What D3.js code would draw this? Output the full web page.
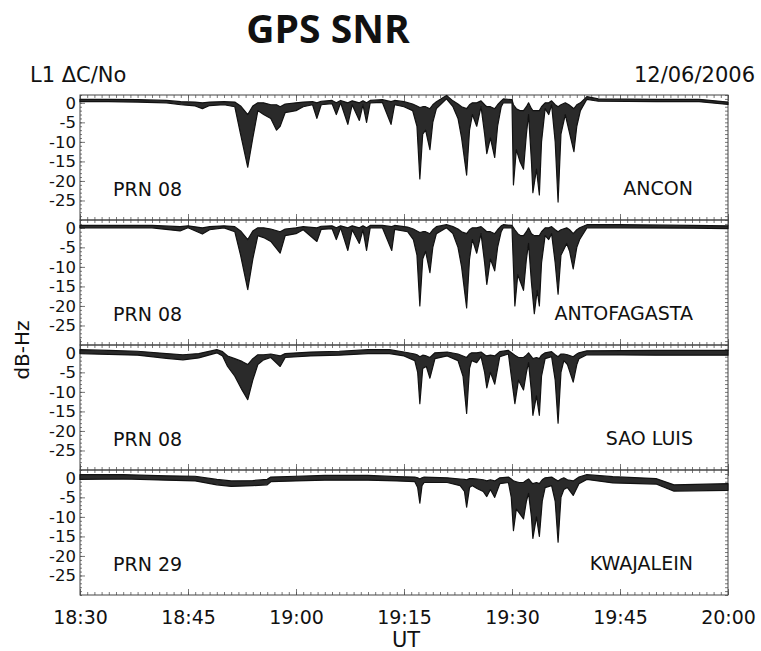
<!DOCTYPE html>
<html>
<head>
<meta charset="utf-8">
<script src="https://cdn.jsdelivr.net/npm/d3@7"></script>
<style>
  body { margin: 0; background: #fff; }
  text { font-family: 'DejaVu Sans', sans-serif; fill: #111; }
</style>
</head>
<body>
<div id="chart"></div>
<script>
const width = 761;
const height = 651;

// station names / satellite per panel
const stations = ['ANCON', 'ANTOFAGASTA', 'SAO LUIS', 'KWAJALEIN'];
const prns = ['PRN 08', 'PRN 08', 'PRN 08', 'PRN 29'];
const dbTicks = [0, -5, -10, -15, -20, -25];

// [minutes after 18:30 UT, upper edge dB, lower edge dB]
const ancon = [
  [0, 0.9, 0.3], [4, 0.9, 0.3], [8, 0.8, 0.2], [12, 0.6, 0], [14, 0.3, -0.5],
  [16, 0.2, -0.8], [17, 0, -1.5], [18, 0.2, -0.7], [20, 0.3, -0.5], [21.5, 0.2, -1],
  [22.3, -0.8, -8], [23.3, -3, -16.5], [24, -0.8, -9], [24.7, 0, -2], [25.5, 0, -3],
  [26.5, -0.5, -4], [27.3, -0.5, -7], [27.8, -1, -6], [28.5, -0.3, -2.5], [30, 0, -2],
  [31, 0.2, -1], [32.3, 0.3, -0.5], [32.9, 0, -4], [33.5, 0.4, -0.5], [35, 0.6, -0.2],
  [35.6, 0, -3], [36.2, 0.6, 0], [37.2, 0, -5.5], [37.8, 0.5, -0.5], [38.8, 0, -4.5],
  [39.3, 0.5, -0.5], [39.8, 0, -5], [40.3, 0.6, 0], [42, 0.8, 0.1], [43.2, 0.3, -5.5],
  [43.7, 0.6, -0.5], [45, 0.3, -1], [46.2, -0.3, -2], [46.8, -0.8, -6], [47.2, -1.2, -19.5],
  [47.6, -1, -8], [48, -1, -7], [48.6, -1.5, -12], [49, -0.5, -5], [49.5, 0.3, -1.5],
  [50.9, 1.9, 1], [51.8, 0.5, -1], [52.5, -0.3, -4], [53, -1, -9], [53.7, -1.5, -18.5],
  [54.1, -0.5, -7], [54.5, 0, -3], [55.1, 0, -6], [55.7, 0.5, -1], [56.2, -0.5, -8],
  [56.5, -1, -13], [57, -1, -9], [57.6, -1.5, -14], [58, -0.5, -6], [58.5, 0.5, -1],
  [58.8, 1, 0], [60, 0.8, 0], [60.2, -0.5, -21], [60.6, -1.5, -12], [61.1, -2, -15],
  [61.6, -2, -17], [62, -1, -8], [62.3, 0, -3], [62.7, -1.5, -15], [62.9, -2, -23],
  [63.4, -2, -17], [63.8, -2, -23.6], [64.1, -1, -10], [64.6, 0, -1.5], [65.1, 0, -3],
  [65.5, 0.5, -0.5], [66, -0.5, -10], [66.4, -1, -25.4], [66.8, -0.5, -8], [67.4, 0, -3],
  [67.9, -0.5, -7], [68.6, -1.5, -12.5], [69, -0.5, -6], [69.5, 0, -2], [70.4, 1.6, 0.9],
  [72, 1, 0.4], [80, 0.9, 0.3], [86, 0.9, 0.3], [90, 0.2, -0.4]
];

const antofagasta = [
  [0, 0.6, 0], [10, 0.6, 0], [13.9, 0.3, -0.8], [15, 0.5, 0], [17, 0, -1.6],
  [18, 0.3, -0.5], [20, 0.5, 0], [21.5, 0.3, -1], [22.3, -0.8, -7], [23.3, -3, -15.8],
  [24, -0.8, -8], [24.7, 0, -2], [25.5, 0, -2.5], [26.5, -0.3, -3.5], [27.8, -1, -6.5],
  [28.5, -0.3, -2], [30, 0, -1.5], [31, 0.3, -0.5], [32.9, 0, -3.5], [33.5, 0.4, -0.4],
  [35, 0.5, -0.2], [35.6, 0, -3], [36.2, 0.5, 0], [37.2, 0, -5.8], [37.8, 0.5, -0.5],
  [38.8, 0, -4], [39.3, 0.5, -0.5], [39.8, 0, -5.8], [40.3, 0.6, 0], [42, 0.6, 0],
  [43.3, 0.3, -5.8], [43.7, 0.6, -0.4], [45.5, 0.2, -1], [46.3, -0.3, -3], [46.8, -0.8, -7],
  [47.2, -1.2, -20], [47.6, -1, -8], [48, -1, -6], [48.6, -1.5, -11.5], [49, -0.5, -5],
  [49.5, 0.3, -1.5], [50.9, 0.8, 0], [51.8, 0.3, -1.5], [52.5, -0.3, -5], [53, -1, -10],
  [53.7, -1.5, -20.5], [54.1, -0.5, -8], [54.5, 0, -3], [55.1, 0, -6.5], [55.7, 0.3, -1.5],
  [56.2, -0.5, -9], [56.5, -1, -14.5], [57, -1, -8], [57.6, -1.5, -11], [58, -0.5, -5],
  [58.5, 0.5, -1], [58.8, 0.8, 0], [60, 0.6, 0], [60.4, -0.5, -20], [60.8, -1.5, -12],
  [61.2, -2, -14], [61.6, -2, -16], [62, -1, -8], [62.3, 0, -4], [62.7, -1.5, -14],
  [63.1, -2, -22], [63.5, -2, -16], [63.8, -2, -20], [64.1, -1, -9], [64.6, 0, -2],
  [65.1, 0, -3], [65.5, 0.3, -1.5], [66, -0.5, -9], [66.4, -1, -17], [66.8, -0.5, -7],
  [67.6, 0, -4], [68, -0.5, -6], [68.5, -1.5, -10.5], [69, -0.5, -5], [69.4, 0, -3],
  [70.4, 0.8, 0], [75, 0.8, 0], [85, 0.6, -0.1], [90, 0.5, -0.2]
];

const saoLuis = [
  [0, 0.8, -0.2], [4, 0.6, -0.4], [8, 0.4, -0.6], [12, -0.2, -1.4], [14.3, -0.5, -1.8],
  [16.5, -0.2, -1.3], [19, 0.8, 0], [19.8, 0.3, -0.8], [20.5, -0.8, -3.5], [21.5, -1.5, -6],
  [22.5, -2.2, -9.5], [23.3, -3, -12], [24, -1.5, -7], [24.7, -0.5, -3], [25.5, -0.5, -1.8],
  [26.5, -0.3, -1.2], [27.8, -0.8, -3.5], [28.5, -0.2, -1.2], [32, 0.2, -0.8], [36, 0.4, -0.6],
  [40, 0.8, -0.2], [43, 0.8, -0.2], [45, 0.2, -0.8], [46.5, -0.3, -2], [46.9, -0.6, -5],
  [47.2, -1, -13], [47.6, -0.6, -4], [48.1, -0.8, -3.5], [48.6, -1.2, -6.5], [49.3, 0, -1.5],
  [51, 0.2, -0.8], [52.5, -0.3, -2], [53.2, -0.8, -6], [53.7, -1.2, -15.5], [54.1, -0.3, -4],
  [54.4, 0, -2], [55.1, 0, -2.5], [55.7, 0.2, -1], [56.2, -0.5, -5], [56.5, -0.8, -9],
  [57, -0.6, -5], [57.6, -0.8, -8], [58.3, 0.3, -1], [59.5, 0.6, -0.3], [60.4, -0.6, -13],
  [60.9, -1.2, -7], [61.6, -1.2, -9.5], [62, -0.6, -5], [62.3, 0, -2.5], [62.7, -1, -10],
  [62.9, -1.5, -16], [63.4, -1.2, -11], [63.8, -1.5, -16], [64.1, -0.6, -6], [64.6, 0, -1.5],
  [65.5, 0.3, -1], [66, -0.5, -7], [66.4, -1, -18], [66.8, -0.3, -5], [67.2, -0.3, -2],
  [67.7, -0.5, -3], [68.5, -1, -7.5], [69, -0.3, -3], [69.3, 0, -1.5], [70.4, 0.5, -0.5],
  [80, 0.6, -0.6], [90, 0.6, -0.6]
];

const kwajalein = [
  [0, 0.8, -0.4], [6, 0.8, -0.3], [12, 0.5, -0.6], [16, 0.4, -0.8], [19, -0.4, -1.8],
  [21, -0.8, -2.2], [24, -0.7, -2], [26, -0.4, -1.8], [26.5, 0.2, -1], [30, 0.4, -0.8],
  [34, 0.6, -0.6], [40, 0.6, -0.6], [44, 0.3, -0.8], [46.5, 0.2, -1], [46.9, 0, -2.5],
  [47.2, -0.3, -6.5], [47.5, 0, -2], [47.8, 0.2, -1.2], [51, 0, -1.2], [52.8, -0.3, -2],
  [53.4, -0.4, -3.5], [53.7, -0.5, -7.5], [54.1, -0.2, -2.5], [54.5, -0.2, -2],
  [55.2, -0.3, -2.8], [56, -0.5, -3.5], [56.5, -0.8, -4.8], [57, -0.5, -3], [57.6, -0.8, -5],
  [58.3, 0, -1.5], [59.5, 0.2, -1.2], [59.9, -0.3, -5], [60.2, -0.8, -13.5], [60.6, -1, -8],
  [61, -1.2, -9], [61.6, -1.2, -10.5], [62, -0.6, -6], [62.3, -0.3, -4], [62.7, -1.2, -10],
  [62.9, -1.5, -15.5], [63.4, -1.2, -10], [63.8, -1.5, -15], [64.2, -0.5, -6], [64.6, 0, -2.5],
  [65.5, 0.2, -2], [66, -0.4, -6], [66.4, -0.8, -16.5], [66.8, -0.3, -5], [67.2, 0, -3],
  [67.7, -0.5, -2.5], [68.5, -0.8, -4.5], [69.3, 0.2, -1.5], [70.4, 0.8, -0.4],
  [74, 0.3, -1.3], [80, -0.2, -1.6], [82.5, -1.8, -3.4], [90, -1.5, -3.2]
];

const series = [ancon, antofagasta, saoLuis, kwajalein];

const margin = { left: 80, right: 33, top: 95 };
const panelH = 125;
const t0 = new Date(2006, 11, 6, 18, 30);
const toDate = (m) => new Date(t0.getTime() + m * 60000);

const x = d3
  .scaleTime()
  .domain([toDate(0), toDate(90)])
  .range([margin.left, width - margin.right]);

const svg = d3
  .select('#chart')
  .append('svg')
  .attr('width', width)
  .attr('height', height)
  .attr('viewBox', [0, 0, width, height]);

// titles
svg
  .append('text')
  .attr('x', 328)
  .attr('y', 43)
  .attr('text-anchor', 'middle')
  .style('font-family', "'Open Sans', sans-serif")
  .style('font-weight', 'bold')
  .style('font-size', '39px')
  .text('GPS SNR');

svg
  .append('text')
  .attr('x', 30)
  .attr('y', 82)
  .style('font-size', '21px')
  .text('L1 \u0394C/No');

svg
  .append('text')
  .attr('x', 755)
  .attr('y', 82)
  .attr('text-anchor', 'end')
  .style('font-size', '21px')
  .text('12/06/2006');

series.forEach((data, i) => {
  const top = margin.top + i * panelH;
  const y = d3.scaleLinear().domain([-30, 2]).range([top + panelH, top]);
  const g = svg.append('g');

  // minor / major ticks, all pointing inward
  g.append('g')
    .attr('transform', `translate(0,${top})`)
    .call(d3.axisTop(x).ticks(d3.timeMinute.every(1)).tickSize(-3).tickFormat(''));
  g.append('g')
    .attr('transform', `translate(0,${top})`)
    .call(d3.axisTop(x).ticks(d3.timeMinute.every(15)).tickSize(-6).tickFormat(''));
  g.append('g')
    .attr('transform', `translate(0,${top + panelH})`)
    .call(d3.axisBottom(x).ticks(d3.timeMinute.every(1)).tickSize(-3).tickFormat(''));
  const bottomAxis = g
    .append('g')
    .attr('transform', `translate(0,${top + panelH})`)
    .call(
      d3
        .axisBottom(x)
        .ticks(d3.timeMinute.every(15))
        .tickSize(-6)
        .tickPadding(16)
        .tickFormat(i === 3 ? d3.timeFormat('%H:%M') : '')
    );
  g.append('g')
    .attr('transform', `translate(${margin.left},0)`)
    .call(d3.axisLeft(y).ticks(32).tickSize(-2).tickFormat(''));
  g.append('g')
    .attr('class', 'yaxis')
    .attr('transform', `translate(${margin.left},0)`)
    .call(
      d3
        .axisLeft(y)
        .tickValues(dbTicks)
        .tickSize(-5)
        .tickPadding(4)
        .tickFormat((d) => (d === 0 ? '0' : '-' + Math.abs(d)))
    );
  g.append('g')
    .attr('transform', `translate(${width - margin.right},0)`)
    .call(d3.axisRight(y).ticks(32).tickSize(-3).tickFormat(''));

  g.selectAll('.domain').remove();
  g.selectAll('.tick line').attr('stroke', '#555').attr('stroke-width', 0.8);
  g.selectAll('.yaxis text').style('font-size', '16.5px').attr('fill', '#111');
  bottomAxis.selectAll('text').style('font-size', '19px').attr('fill', '#111');

  // panel frame
  g.append('rect')
    .attr('x', margin.left)
    .attr('y', top)
    .attr('width', width - margin.right - margin.left)
    .attr('height', panelH)
    .attr('fill', 'none')
    .attr('stroke', '#444')
    .attr('stroke-width', 1);

  // SNR trace: band between upper and lower edges of the fast fluctuations
  const area = d3
    .area()
    .x((d) => x(toDate(d[0])))
    .y0((d) => y(d[2]))
    .y1((d) => y(d[1]));

  g.append('path')
    .datum(data)
    .attr('d', area)
    .attr('fill', '#2a2a2a')
    .attr('stroke', '#111')
    .attr('stroke-width', 1.2)
    .attr('stroke-linejoin', 'round');

  g.append('text')
    .attr('x', 113)
    .attr('y', top + 101)
    .style('font-size', '19px')
    .text(prns[i]);

  g.append('text')
    .attr('x', 693)
    .attr('y', top + 100)
    .attr('text-anchor', 'end')
    .style('font-size', '19px')
    .text(stations[i]);
});

svg
  .append('text')
  .attr('transform', `translate(29,350) rotate(-90)`)
  .attr('text-anchor', 'middle')
  .style('font-size', '20px')
  .text('dB-Hz');

svg
  .append('text')
  .attr('x', 406)
  .attr('y', 647)
  .attr('text-anchor', 'middle')
  .style('font-size', '21px')
  .text('UT');
</script>
</body>
</html>
